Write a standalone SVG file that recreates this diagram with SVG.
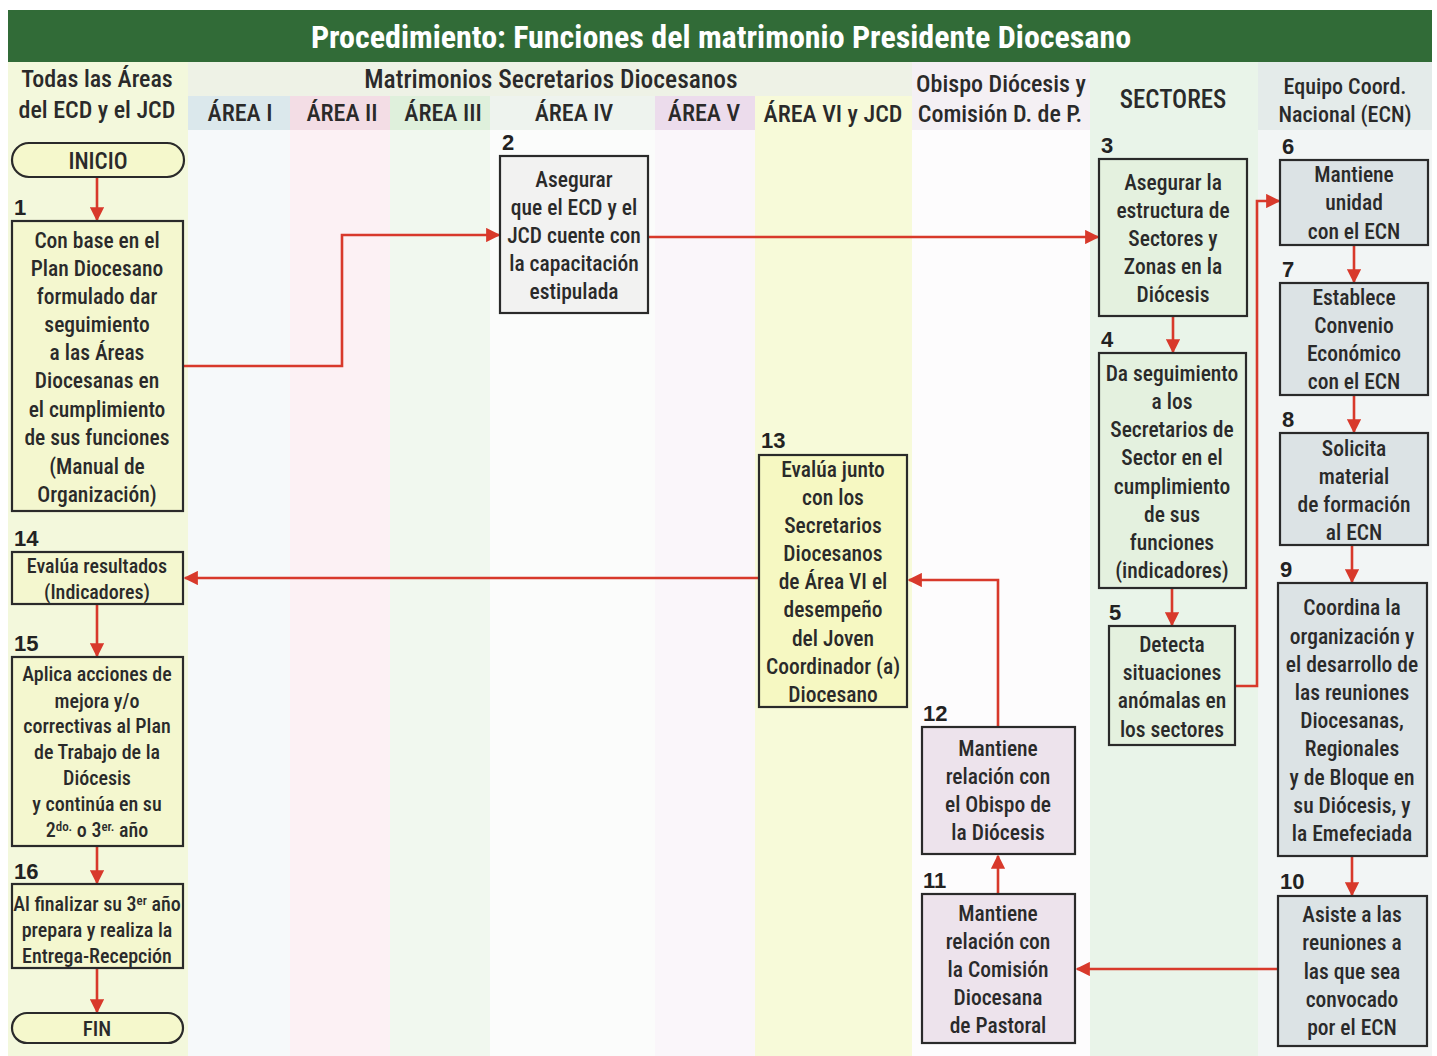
<svg xmlns="http://www.w3.org/2000/svg" width="1437" height="1056" viewBox="0 0 1437 1056">
<defs>
<marker id="ah" viewBox="0 0 10 10" refX="9" refY="5" markerWidth="5.5" markerHeight="5.5" orient="auto" markerUnits="strokeWidth">
<path d="M0,0 L10,5 L0,10 z" fill="#d8392b"/>
</marker>
<style>
.t{font-family:"Roboto Condensed","Liberation Sans Narrow","DejaVu Sans Condensed","Open Sans",sans-serif;font-stretch:condensed;font-weight:500;fill:#2a2a2a;text-anchor:middle;}
.n{font-size:21.5px;}
.h{font-size:24px;}
.num{font-family:"Liberation Sans",Arial,sans-serif;font-weight:bold;font-size:22px;fill:#222;}
.box{stroke:#2a2a2a;stroke-width:2.2;}
.ca{fill:none;stroke:#d8392b;stroke-width:2.6;marker-end:url(#ah);}
</style>
</defs>
<rect x="0" y="0" width="1437" height="1056" fill="#ffffff"/>
<g id="lanes">
<rect x="8" y="62" width="180" height="994" fill="#f3f8dc"/>
<rect x="188" y="62" width="724" height="34" fill="#eef2e6"/>
<rect x="188" y="96" width="102" height="34" fill="#dbe8ec"/>
<rect x="290" y="96" width="100" height="34" fill="#f3dde5"/>
<rect x="390" y="96" width="100" height="34" fill="#dff0dc"/>
<rect x="490" y="96" width="165" height="34" fill="#eef3ee"/>
<rect x="655" y="96" width="100" height="34" fill="#ecdcec"/>
<rect x="755" y="96" width="157" height="34" fill="#f5f9cf"/>
<rect x="188" y="130" width="102" height="926" fill="#f6f9fa"/>
<rect x="290" y="130" width="100" height="926" fill="#fcf1f4"/>
<rect x="390" y="130" width="100" height="926" fill="#f1f8ef"/>
<rect x="490" y="130" width="165" height="926" fill="#fbfcfb"/>
<rect x="655" y="130" width="100" height="926" fill="#faf6fa"/>
<rect x="755" y="96" width="157" height="960" fill="#f7fad9"/>
<rect x="912" y="62" width="178" height="68" fill="#f4f0f4"/>
<rect x="912" y="130" width="178" height="926" fill="#fdfcfd"/>
<rect x="1090" y="62" width="168" height="994" fill="#e9f4e9"/>
<rect x="1258" y="62" width="174" height="994" fill="#e4ebea"/>
<rect x="1258" y="130" width="174" height="926" fill="#f2f5f5"/>
</g>
<g id="title">
<rect x="8" y="10" width="1424" height="52" fill="#316b37"/>
<text class="t" x="721" y="48" style="font-size:32px;font-weight:bold;fill:#ffffff;">Procedimiento: Funciones del matrimonio Presidente Diocesano</text>
</g>
<g id="headers">
<text class="t h" x="97" y="87">Todas las Áreas</text>
<text class="t h" x="97" y="118">del ECD y el JCD</text>
<text class="t" x="551" y="88" style="font-size:25.5px;">Matrimonios Secretarios Diocesanos</text>
<text class="t h" x="240" y="121">ÁREA I</text>
<text class="t h" x="342" y="121">ÁREA II</text>
<text class="t h" x="443" y="121">ÁREA III</text>
<text class="t h" x="574" y="121">ÁREA IV</text>
<text class="t h" x="704" y="121">ÁREA V</text>
<text class="t h" x="833" y="122">ÁREA VI y JCD</text>
<text class="t h" x="1001" y="92">Obispo Diócesis y</text>
<text class="t h" x="1000" y="122">Comisión D. de P.</text>
<text class="t" x="1173" y="108" style="font-size:25px;">SECTORES</text>
<text class="t" x="1345" y="94" style="font-size:22px;">Equipo Coord.</text>
<text class="t" x="1345" y="122" style="font-size:22px;">Nacional (ECN)</text>
</g>
<g id="connectors">
<line class="ca" x1="97" y1="177" x2="97" y2="220"/>
<polyline class="ca" points="183,366 342,366 342,235 499,235"/>
<line class="ca" x1="648" y1="237" x2="1098" y2="237"/>
<line class="ca" x1="1173" y1="316" x2="1173" y2="352"/>
<line class="ca" x1="1172" y1="588" x2="1172" y2="625"/>
<polyline class="ca" points="1235,686 1257,686 1257,201 1279,201"/>
<line class="ca" x1="1354" y1="245" x2="1354" y2="282"/>
<line class="ca" x1="1354" y1="395" x2="1354" y2="432"/>
<line class="ca" x1="1352" y1="545" x2="1352" y2="582"/>
<line class="ca" x1="1352" y1="856" x2="1352" y2="895"/>
<line class="ca" x1="1278" y1="969" x2="1077" y2="969"/>
<line class="ca" x1="998" y1="894" x2="998" y2="856"/>
<polyline class="ca" points="998,727 998,580 909,580"/>
<line class="ca" x1="759" y1="578" x2="185" y2="578"/>
<line class="ca" x1="97" y1="604" x2="97" y2="656"/>
<line class="ca" x1="97" y1="846" x2="97" y2="883"/>
<line class="ca" x1="97" y1="968" x2="97" y2="1012"/>
</g>
<g id="inicio">
<rect class="box" x="12" y="143" width="172" height="34" rx="17" fill="#f5f8cc"/>
<text class="t" x="98" y="169" style="font-size:23px;">INICIO</text>
</g>
<g id="node1">
<text class="num" x="14" y="215">1</text>
<rect class="box" x="12" y="221" width="171" height="290" fill="#f4f7cf"/>
<text class="t n"><tspan x="97" y="248">Con base en el</tspan><tspan x="97" y="276">Plan Diocesano</tspan><tspan x="97" y="304">formulado dar</tspan><tspan x="97" y="332">seguimiento</tspan><tspan x="97" y="360">a las Áreas</tspan><tspan x="97" y="388">Diocesanas en</tspan><tspan x="97" y="417">el cumplimiento</tspan><tspan x="97" y="445">de sus funciones</tspan><tspan x="97" y="474">(Manual de</tspan><tspan x="97" y="502">Organización)</tspan></text>
</g>
<g id="node2">
<text class="num" x="502" y="150">2</text>
<rect class="box" x="500" y="156" width="148" height="157" fill="#f2f2f1"/>
<text class="t n"><tspan x="574" y="187">Asegurar</tspan><tspan x="574" y="215">que el ECD y el</tspan><tspan x="574" y="243">JCD cuente con</tspan><tspan x="574" y="271">la capacitación</tspan><tspan x="574" y="299">estipulada</tspan></text>
</g>
<g id="node3">
<text class="num" x="1101" y="153">3</text>
<rect class="box" x="1099" y="159" width="148" height="157" fill="#e4f1df"/>
<text class="t n"><tspan x="1173" y="190">Asegurar la</tspan><tspan x="1173" y="218">estructura de</tspan><tspan x="1173" y="246">Sectores y</tspan><tspan x="1173" y="274">Zonas en la</tspan><tspan x="1173" y="302">Diócesis</tspan></text>
</g>
<g id="node4">
<text class="num" x="1101" y="347">4</text>
<rect class="box" x="1099" y="353" width="147" height="235" fill="#e4f1df"/>
<text class="t n"><tspan x="1172" y="381">Da seguimiento</tspan><tspan x="1172" y="409">a los</tspan><tspan x="1172" y="437">Secretarios de</tspan><tspan x="1172" y="465">Sector en el</tspan><tspan x="1172" y="494">cumplimiento</tspan><tspan x="1172" y="522">de sus</tspan><tspan x="1172" y="550">funciones</tspan><tspan x="1172" y="578">(indicadores)</tspan></text>
</g>
<g id="node5">
<text class="num" x="1109" y="620">5</text>
<rect class="box" x="1109" y="626" width="126" height="119" fill="#e4f1df"/>
<text class="t n"><tspan x="1172" y="652">Detecta</tspan><tspan x="1172" y="680">situaciones</tspan><tspan x="1172" y="708">anómalas en</tspan><tspan x="1172" y="737">los sectores</tspan></text>
</g>
<g id="node6">
<text class="num" x="1282" y="154">6</text>
<rect class="box" x="1280" y="160" width="148" height="85" fill="#dce3e5"/>
<text class="t n"><tspan x="1354" y="182">Mantiene</tspan><tspan x="1354" y="210">unidad</tspan><tspan x="1354" y="239">con el ECN</tspan></text>
</g>
<g id="node7">
<text class="num" x="1282" y="277">7</text>
<rect class="box" x="1280" y="283" width="148" height="112" fill="#dce3e5"/>
<text class="t n"><tspan x="1354" y="305">Establece</tspan><tspan x="1354" y="333">Convenio</tspan><tspan x="1354" y="361">Económico</tspan><tspan x="1354" y="389">con el ECN</tspan></text>
</g>
<g id="node8">
<text class="num" x="1282" y="427">8</text>
<rect class="box" x="1280" y="433" width="148" height="112" fill="#dce3e5"/>
<text class="t n"><tspan x="1354" y="456">Solicita</tspan><tspan x="1354" y="484">material</tspan><tspan x="1354" y="512">de formación</tspan><tspan x="1354" y="540">al ECN</tspan></text>
</g>
<g id="node9">
<text class="num" x="1280" y="577">9</text>
<rect class="box" x="1278" y="583" width="149" height="273" fill="#dce3e5"/>
<text class="t n"><tspan x="1352" y="615">Coordina la</tspan><tspan x="1352" y="644">organización y</tspan><tspan x="1352" y="672">el desarrollo de</tspan><tspan x="1352" y="700">las reuniones</tspan><tspan x="1352" y="728">Diocesanas,</tspan><tspan x="1352" y="756">Regionales</tspan><tspan x="1352" y="785">y de Bloque en</tspan><tspan x="1352" y="813">su Diócesis, y</tspan><tspan x="1352" y="841">la Emefeciada</tspan></text>
</g>
<g id="node10">
<text class="num" x="1280" y="889">10</text>
<rect class="box" x="1278" y="896" width="149" height="150" fill="#dce3e5"/>
<text class="t n"><tspan x="1352" y="922">Asiste a las</tspan><tspan x="1352" y="950">reuniones a</tspan><tspan x="1352" y="979">las que sea</tspan><tspan x="1352" y="1007">convocado</tspan><tspan x="1352" y="1035">por el ECN</tspan></text>
</g>
<g id="node11">
<text class="num" x="923" y="888">11</text>
<rect class="box" x="922" y="894" width="153" height="149" fill="#ede3ec"/>
<text class="t n"><tspan x="998" y="921">Mantiene</tspan><tspan x="998" y="949">relación con</tspan><tspan x="998" y="977">la Comisión</tspan><tspan x="998" y="1005">Diocesana</tspan><tspan x="998" y="1033">de Pastoral</tspan></text>
</g>
<g id="node12">
<text class="num" x="923" y="721">12</text>
<rect class="box" x="922" y="727" width="153" height="127" fill="#ede3ec"/>
<text class="t n"><tspan x="998" y="756">Mantiene</tspan><tspan x="998" y="784">relación con</tspan><tspan x="998" y="812">el Obispo de</tspan><tspan x="998" y="840">la Diócesis</tspan></text>
</g>
<g id="node13">
<text class="num" x="761" y="448">13</text>
<rect class="box" x="759" y="455" width="148" height="252" fill="#f6f8c2"/>
<text class="t n"><tspan x="833" y="477">Evalúa junto</tspan><tspan x="833" y="505">con los</tspan><tspan x="833" y="533">Secretarios</tspan><tspan x="833" y="561">Diocesanos</tspan><tspan x="833" y="589">de Área VI el</tspan><tspan x="833" y="617">desempeño</tspan><tspan x="833" y="646">del Joven</tspan><tspan x="833" y="674">Coordinador (a)</tspan><tspan x="833" y="702">Diocesano</tspan></text>
</g>
<g id="node14">
<text class="num" x="14" y="546">14</text>
<rect class="box" x="12" y="552" width="171" height="52" fill="#f4f7cf"/>
<text class="t" style="font-size:20px;"><tspan x="97" y="573">Evalúa resultados</tspan><tspan x="97" y="599">(Indicadores)</tspan></text>
</g>
<g id="node15">
<text class="num" x="14" y="651">15</text>
<rect class="box" x="12" y="657" width="171" height="189" fill="#f4f7cf"/>
<text class="t" style="font-size:20px;"><tspan x="97" y="681">Aplica acciones de</tspan><tspan x="97" y="708">mejora y/o</tspan><tspan x="97" y="733">correctivas al Plan</tspan><tspan x="97" y="759">de Trabajo de la</tspan><tspan x="97" y="785">Diócesis</tspan><tspan x="97" y="811">y continúa en su</tspan><tspan x="97" y="837">2<tspan style="font-size:13px;" dy="-6">do.</tspan><tspan dy="6"> o 3</tspan><tspan style="font-size:13px;" dy="-6">er.</tspan><tspan dy="6"> año</tspan></tspan></text>
</g>
<g id="node16">
<text class="num" x="14" y="879">16</text>
<rect class="box" x="12" y="884" width="171" height="84" fill="#f4f7cf"/>
<text class="t" style="font-size:20px;"><tspan x="97" y="911">Al finalizar su 3<tspan style="font-size:13px;" dy="-6">er</tspan><tspan dy="6"> año</tspan></tspan><tspan x="97" y="937">prepara y realiza la</tspan><tspan x="97" y="963">Entrega-Recepción</tspan></text>
</g>
<g id="fin">
<rect class="box" x="12" y="1013" width="171" height="30" rx="15" fill="#f5f8cc"/>
<text class="t" x="97" y="1036" style="font-size:21px;">FIN</text>
</g>
</svg>
